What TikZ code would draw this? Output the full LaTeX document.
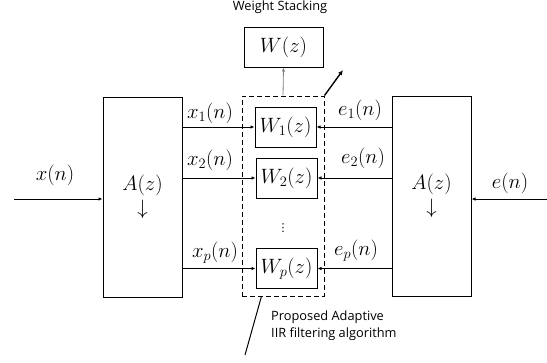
\documentclass[tikz,border=0pt]{standalone}
\usepackage{fontspec}
\newfontfamily\labelfont{Open Sans}
\newfontfamily\symfont{DejaVu Sans}
\usetikzlibrary{arrows.meta,calc}
\begin{document}
\begin{tikzpicture}[x=1pt,y=-1pt,
  blk/.style={draw, line width=1pt, inner sep=0pt, align=center, font=\fontsize{19.5}{23}\selectfont},
  wblk/.style={blk, minimum width=61pt, minimum height=40pt},
  sig/.style={line width=1pt, -{Latex[length=4pt,width=3.5pt]}},
  lbl/.style={font=\fontsize{19.5}{22}\selectfont, inner sep=0pt},
  note/.style={font=\labelfont\fontsize{12.8}{14}\selectfont, inner sep=0pt}
]
\useasboundingbox (0,0) rectangle (547,362);
% main blocks
\node[blk, minimum width=79pt, minimum height=200pt] (AL) at (142.5,197) {$A(z)$\\[1pt]$\downarrow$};
\node[blk, minimum width=79pt, minimum height=200pt] (AR) at (431.5,196) {$A(z)$\\[1pt]$\downarrow$};
\node[draw, dash pattern=on 5pt off 3pt, line width=1pt, minimum width=82pt, minimum height=200pt, inner sep=0pt] (DB) at (283,196) {};
\node[wblk] (W1) at (285.5,127) {$W_1(z)$};
\node[wblk] (W2) at (286.5,178) {$W_2(z)$};
\node[wblk] (Wp) at (286.5,268.5) {$W_p(z)$};
\node[blk, minimum width=79pt, minimum height=40pt] (WZ) at (283.5,47) {$W(z)$};
\node[font=\symfont\fontsize{11}{12}\selectfont, inner sep=0pt] (dots) at (283,228) {⋮};
% texts
\node[note] (ws) at (280,7.5) {Weight Stacking};
\node[note, anchor=west] (pa1) at (271,317) {Proposed Adaptive};
\node[note, anchor=west] (pa2) at (271,334) {IIR filtering algorithm};
% input/output
\coordinate (xin) at (14,199);
\coordinate (ein) at (547,199);
\draw[sig] (xin) -- (AL.west |- xin);
\draw[sig] (ein) -- (AR.east |- ein);
\node[lbl] (xl) at (55,175) {$x(n)$};
\node[lbl] (el) at (510,183) {$e(n)$};
% x lines
\draw[sig] (AL.east |- W1) -- (W1.west);
\draw[sig] (AL.east |- W2) -- (W2.west);
\draw[sig] (AL.east |- Wp) -- (Wp.west);
\node[lbl] (x1l) at (210,113) {$x_1(n)$};
\node[lbl] (x2l) at (210,160) {$x_2(n)$};
\node[lbl] (xpl) at (215,253) {$x_p(n)$};
% e lines
\draw[sig] (AR.west |- W1) -- (W1.east);
\draw[sig] (AR.west |- W2) -- (W2.east);
\draw[sig] (AR.west |- Wp) -- (Wp.east);
\node[lbl] (e1l) at (360,110) {$e_1(n)$};
\node[lbl] (e2l) at (363,158) {$e_2(n)$};
\node[lbl] (epl) at (356,251) {$e_p(n)$};
% stacking arrow
\draw[draw=gray, line width=0.8pt, -{Latex[length=4pt,width=3.5pt]}] (DB.north) -- (WZ.south);
\coordinate (diag) at (343,70);
\draw[line width=1.4pt, -{Latex[length=5pt,width=4.5pt]}] (DB.north east) -- (diag);
% annotation pointer
\coordinate (ptr) at (245,355);
\draw[line width=1pt] ($(DB.south west)!0.24!(DB.south east)$) -- (ptr);
\end{tikzpicture}
\end{document}
